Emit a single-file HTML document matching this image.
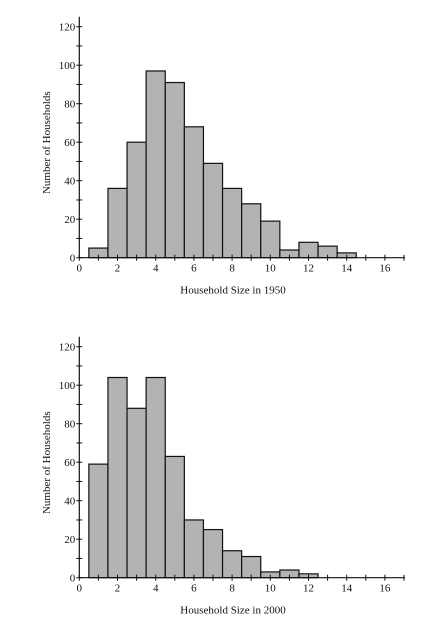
<!DOCTYPE html>
<html><head><meta charset="utf-8"><style>
html,body{margin:0;padding:0;background:#fff;}
svg text{font-family:"Liberation Serif","Times New Roman",serif;font-size:11px;fill:#111;}
</style></head><body>
<svg id="c" width="436" height="625"></svg>
<script>
const bins1950 = [1,2,3,4,5,6,7,8,9,10,11,12,13,14];
const counts1950 = [5,36,60,97,91,68,49,36,28,19,4,8,6,2.5];
const bins2000 = [1,2,3,4,5,6,7,8,9,10,11,12];
const counts2000 = [59,104,88,104,63,30,25,14,11,3,4,2];
const yTicks = [0,20,40,60,80,100,120];
const xTicks = [0,2,4,6,8,10,12,14,16];
const NS="http://www.w3.org/2000/svg";
const svg=document.getElementById('c');
function mk(t,a,p){const e=document.createElementNS(NS,t);for(const k in a)e.setAttribute(k,a[k]);(p||svg).appendChild(e);return e;}
function draw(y0,bins,counts,title,key){
  const g=mk('g',{});
  
  
  const x0=79.3, xs=19.1, ys=1.925;
  const X=v=>x0+v*xs, Y=v=>y0-v*ys;
  bins.forEach((b,i)=>{
    const r=mk('rect',{x:X(b-0.5),y:Y(counts[i]),width:xs,height:counts[i]*ys,fill:'#b3b3b3',stroke:'#111','stroke-width':1.2},g);
    
    
  });
  const ax=mk('line',{x1:x0,y1:y0,x2:405,y2:y0,stroke:'#111','stroke-width':1.2},g);
  
  
  const ay=mk('line',{x1:x0,y1:y0,x2:x0,y2:y0-241,stroke:'#111','stroke-width':1.2},g);
  
  
  for(let v=0;v<=17;v++) mk('line',{x1:X(v),y1:y0-3,x2:X(v),y2:y0+3,stroke:'#111'},g);
  for(let v=0;v<=120;v+=10) mk('line',{x1:x0-3,y1:Y(v),x2:x0+3,y2:Y(v),stroke:'#111'},g);
  xTicks.forEach(v=>{const t=mk('text',{x:X(v),y:y0+14,'text-anchor':'middle'},g);t.textContent=v;
    });
  yTicks.forEach(v=>{const t=mk('text',{x:x0-4,y:Y(v)+4,'text-anchor':'end'},g);t.textContent=v;
    });
  const xt=mk('text',{x:233,y:y0+36,'text-anchor':'middle'},g);xt.textContent=title;
  
  const yt=mk('text',{x:0,y:0,'text-anchor':'middle',transform:`translate(50,${y0-115}) rotate(-90)`},g);yt.textContent='Number of Households';
  
}
draw(257.7,bins1950,counts1950,'Household Size in 1950','chart-1950');
draw(577.7,bins2000,counts2000,'Household Size in 2000','chart-2000');
</script>
</body></html>
